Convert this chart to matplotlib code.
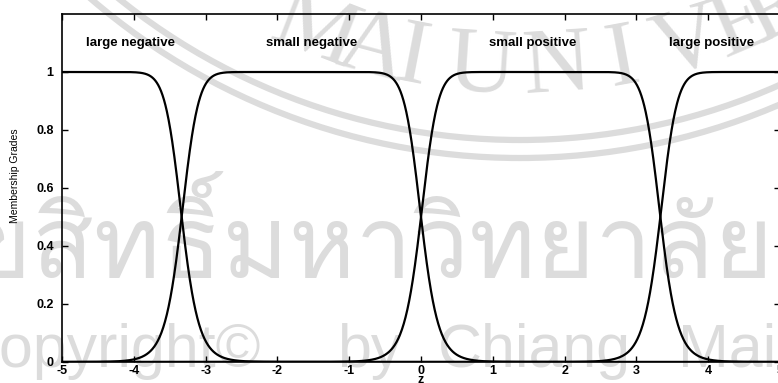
import numpy as np
import matplotlib
matplotlib.use("Agg")
from matplotlib import pyplot as plt
from matplotlib import font_manager
from matplotlib.ft2font import FT2Font
from matplotlib.patches import Arc
from matplotlib.textpath import TextToPath
from matplotlib.font_manager import FontProperties

# membership functions (generalized bell): centres, half width, slope
mf_names = ["large negative", "small negative", "small positive", "large positive"]
mf_centers = [-5.0, -1.667, 1.667, 5.0]
mf_width = 1.667
mf_slope = 7.0

# where the names are written (data coords)
name_x = [-4.05, -1.52, 1.56, 4.05]
name_y = 1.10

x_ticks = [-5, -4, -3, -2, -1, 0, 1, 2, 3, 4, 5]
y_ticks = [0, 0.2, 0.4, 0.6, 0.8, 1]
y_tick_labels = ["0", "0.2", "0.4", "0.6", "0.8", "1"]

W, H = 778, 383
GRAY = "#dcdcdc"


def gbell(z, c, a, b):
    return 1.0 / (1.0 + np.abs((z - c) / a) ** (2 * b))


def pick_family(names):
    have = {f.name for f in font_manager.fontManager.ttflist}
    for n in names:
        if n in have:
            return n
    return "DejaVu Sans"


def font_with_char(ch):
    for f in font_manager.fontManager.ttflist:
        try:
            if ord(ch) in FT2Font(f.fname).get_charmap():
                return f.name
        except Exception:
            pass
    return None


ttp = TextToPath()


def text_px(s, family, size):
    prop = FontProperties(family=family, size=size)
    return ttp.get_text_width_height_descent(s, prop, ismath=False)[0] * 100 / 72


fig = plt.figure(figsize=(W / 100, H / 100), dpi=100)
fig.patch.set_facecolor("white")

# background layer in pixel coordinates (watermark)
bg = fig.add_axes([0, 0, 1, 1], zorder=-1)
bg.set_xlim(0, W)
bg.set_ylim(H, 0)
bg.axis("off")

seal_cx, seal_cy = 520, -500
for r in (640, 658):
    bg.add_patch(Arc((seal_cx, seal_cy), 2 * r, 2 * r, theta1=0, theta2=180,
                     color=GRAY, lw=4.5))

# seal lettering on the lower arc, tops facing the centre
serif = pick_family(["Liberation Serif", "DejaVu Serif"])
seal_letters = list("MAIUNIVERSITY")
seal_x = [315, 372, 412, 482, 557, 623, 688, 742, 777, 812, 840, 870, 905]
r_txt = 570
for ch, px in zip(seal_letters, seal_x):
    th = np.arcsin((px - seal_cx) / r_txt)
    py = seal_cy + r_txt * np.cos(th)
    bg.text(px, py, ch, family=serif, fontsize=68, color=GRAY, rotation=np.degrees(th),
            ha="center", va="center", rotation_mode="anchor")

# Thai line, only when a font with Thai glyphs exists
thai_font = font_with_char("\u0e21")
if thai_font:
    thai_size = 80 * 741 / text_px("สิทธิ์มหาวิทยาลัย", thai_font, 80)
    thai_x = 37 - text_px("ลิข", thai_font, thai_size) - 4
    bg.text(thai_x, 278, "ลิขสิทธิ์มหาวิทยาลัยเชียงใหม่", family=thai_font,
            fontsize=thai_size, color=GRAY, ha="left", va="baseline")

sans = pick_family(["Liberation Sans Narrow", "Liberation Sans"])
wm_size = 50 * 193 / text_px("Chiang", sans, 50)
c_w = text_px("Co", sans, wm_size) - text_px("o", sans, wm_size)
for word, px in [("Copyright©", -c_w), ("by", 337), ("Chiang", 438), ("Mai University", 678)]:
    bg.text(px, 367, word, family=sans, fontsize=wm_size, color=GRAY,
            ha="left", va="baseline")

# the plot itself
ax = fig.add_axes([62 / W, 21 / H, (780 - 62) / W, 348 / H])
ax.set_facecolor("none")

z = np.linspace(-5, 5, 2001)
for c in mf_centers:
    ax.plot(z, gbell(z, c, mf_width, mf_slope), color="black", lw=1.6)

for name, nx in zip(mf_names, name_x):
    ax.text(nx, name_y, name, ha="center", va="center", family="Liberation Sans",
            fontweight="bold", fontsize=9.5)

ax.set_xlim(-5, 5)
ax.set_ylim(0, 1.2)
ax.set_xticks(x_ticks)
ax.set_xticklabels([str(t) for t in x_ticks])
ax.set_yticks(y_ticks)
ax.set_yticklabels(y_tick_labels)
ax.tick_params(direction="in", length=4, width=1, top=True, right=True,
               labelsize=9)
ax.tick_params(axis="x", pad=2)
ax.tick_params(axis="y", pad=6)
for lab in ax.get_xticklabels() + ax.get_yticklabels():
    lab.set_family("Liberation Sans")
    lab.set_fontweight("bold")
for sp in ax.spines.values():
    sp.set_linewidth(1.2)

ax.set_xlabel("z", family="Liberation Sans", fontweight="bold", fontsize=9, labelpad=-2)
ax.set_ylabel("Membership Grades", family="Liberation Sans", fontsize=7.5)
ax.yaxis.set_label_coords(-0.058, 0.534)

plt.savefig("out.png", dpi=100, facecolor="white")
